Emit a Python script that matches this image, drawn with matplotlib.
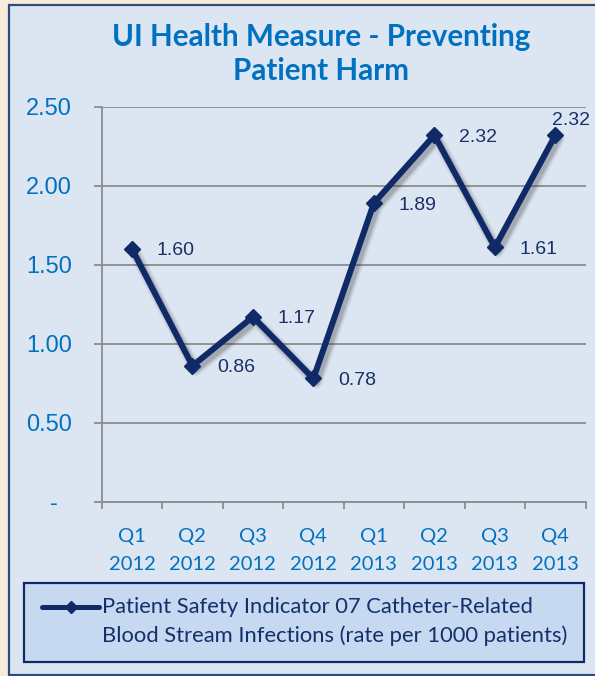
import matplotlib
matplotlib.use("Agg")
import matplotlib.pyplot as plt
import matplotlib.transforms as mtrans
from matplotlib.patches import Rectangle
from matplotlib.lines import Line2D
import numpy as np

# ---- data ----
quarters = ["Q1\n2012", "Q2\n2012", "Q3\n2012", "Q4\n2012",
            "Q1\n2013", "Q2\n2013", "Q3\n2013", "Q4\n2013"]
rates = [1.60, 0.86, 1.17, 0.78, 1.89, 2.32, 1.61, 2.32]
yticks = [0.0, 0.5, 1.0, 1.5, 2.0, 2.5]
ytick_labels = ["-", "0.50", "1.00", "1.50", "2.00", "2.50"]
title = "UI Health Measure - Preventing\nPatient Harm"
series_name = ("Patient Safety Indicator 07 Catheter-Related\n"
               "Blood Stream Infections (rate per 1000 patients)")

W, H = 595, 676
PX = 0.72  # points per pixel at dpi 100
fig = plt.figure(figsize=(W / 100, H / 100), dpi=100)
fig.patch.set_facecolor("#f6ecd9")

# outer panel
fig.patches.append(Rectangle((9 / W, 1 / H), 1.0, 670 / H, transform=fig.transFigure,
                             facecolor="#dce6f2", edgecolor="#2f4a80", linewidth=1.6,
                             zorder=-10))
# legend box
fig.patches.append(Rectangle((24 / W, 14 / H), 560 / W, 79 / H, transform=fig.transFigure,
                             facecolor="#c6d9f1", edgecolor="#102a66", linewidth=1.6,
                             zorder=-5))

navy = "#0f2a66"
blue = "#0070c0"
grid_c = "#8c8c8c"

ax = fig.add_axes([101.7 / W, 174.3 / H, (585.6 - 101.7) / W, (569.3 - 174.3) / H])
ax.set_zorder(2)
ax.set_facecolor("none")
x = np.arange(len(rates))

# soft shadow (several offset, translucent strokes)
shadow_tr = ax.transData + mtrans.ScaledTranslation(3 / 100, -4 / 100, fig.dpi_scale_trans)
for lw, a in [(13, 0.05), (10.5, 0.08), (8, 0.10), (6, 0.13)]:
    ax.plot(x, rates, color="#303030", lw=lw * PX, alpha=a, transform=shadow_tr,
            solid_joinstyle="round", solid_capstyle="round", zorder=4, clip_on=False)

ax.plot(x, rates, color=navy, lw=6 * PX, marker="D", markersize=12 * PX,
        solid_joinstyle="miter", zorder=5, clip_on=False)

ax.set_xlim(-0.5, len(rates) - 0.5)
ax.set_ylim(0, 2.5)

ax.set_yticks(yticks)
ax.set_yticklabels(ytick_labels)
ax.yaxis.grid(True, color=grid_c, lw=1.3)
ax.set_axisbelow(True)
ax.tick_params(axis="y", length=8 * PX, width=1.3, color=grid_c, pad=22 * PX,
               labelsize=17, labelcolor=blue)
for lab in ax.get_yticklabels():
    lab.set_fontfamily("Liberation Sans")
dash = ax.get_yticklabels()[0]
dash.set_transform(dash.get_transform() + mtrans.ScaledTranslation(-14 / 100, 0, fig.dpi_scale_trans))

ax.set_xticks(x)
ax.set_xticklabels(quarters, fontfamily="Lato", fontsize=14.5, color=blue, linespacing=1.75)
ax.set_xticks(np.arange(len(rates) + 1) - 0.5, minor=True)
ax.tick_params(axis="x", which="major", length=0, pad=19)
ax.tick_params(axis="x", which="minor", length=7 * PX, width=1.3, color=grid_c)

for s in ["top", "right"]:
    ax.spines[s].set_visible(False)
for s in ["left", "bottom"]:
    ax.spines[s].set_color(grid_c)
    ax.spines[s].set_linewidth(1.3)

# data labels
for i, v in enumerate(rates):
    if i == len(rates) - 1:
        off = (-3, 15)
    else:
        off = (25, -2)
    ax.annotate(f"{v:.2f}", (i, v), xytext=off, textcoords="offset pixels",
                ha="left", va="center", fontsize=14, fontfamily="Liberation Sans",
                color="#1a2f66", zorder=6, annotation_clip=False)

# title
fig.text(321 / W, 1 - 54 / H, title, ha="center", va="center", fontsize=21.3,
         fontweight="bold", fontfamily="Lato", color=blue, linespacing=1.28)

# legend (drawn manually: handle aligned with the first text line)
ly = 1 - 607 / H
fig.add_artist(Line2D([42 / W, 99 / W], [ly, ly], transform=fig.transFigure,
                      color=navy, lw=5 * PX, solid_capstyle="round"))
fig.add_artist(Line2D([70.5 / W], [ly], transform=fig.transFigure, color=navy,
                      marker="D", markersize=8 * PX, lw=0))
fig.text(101.5 / W, 1 - 621.5 / H, series_name, ha="left", va="center",
         fontfamily="Lato", fontsize=15.8, color="#14306b", linespacing=1.45)

fig.savefig("out.png", dpi=100, facecolor=fig.get_facecolor())
